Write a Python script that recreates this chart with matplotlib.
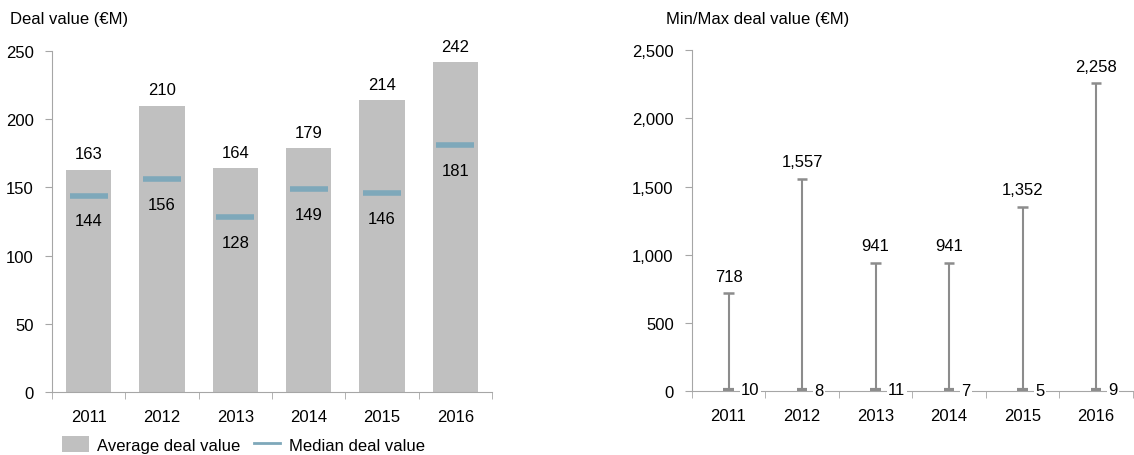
import matplotlib.pyplot as plt
import numpy as np

plt.rcParams['font.family'] = ['Liberation Sans', 'DejaVu Sans']

years = ['2011', '2012', '2013', '2014', '2015', '2016']
avg_value = [163, 210, 164, 179, 214, 242]
median_value = [144, 156, 128, 149, 146, 181]
max_value = [718, 1557, 941, 941, 1352, 2258]
min_value = [10, 8, 11, 7, 5, 9]

bar_color = '#c0c0c0'
median_color = '#7ea8ba'
axis_color = '#a6a6a6'
range_color = '#8c8c8c'
fs = 12

fig = plt.figure(figsize=(11.34, 4.56), dpi=100)
ax1 = fig.add_axes([0.0459, 0.138, 0.388, 0.748])
ax2 = fig.add_axes([0.610, 0.140, 0.389, 0.748])

x = np.arange(len(years))


def style_axis(ax):
    for s in ['top', 'right']:
        ax.spines[s].set_visible(False)
    for s in ['left', 'bottom']:
        ax.spines[s].set_color(axis_color)
    ax.set_xlim(-0.5, len(years) - 0.5)
    ax.set_xticks(x)
    ax.set_xticklabels(years, fontsize=fs)
    ax.tick_params(axis='x', length=0, pad=12)
    ax.set_xticks(np.arange(len(years) + 1) - 0.5, minor=True)
    ax.tick_params(axis='x', which='minor', length=5, color=axis_color, direction='out')
    ax.tick_params(axis='y', length=5, color=axis_color, labelsize=fs, pad=8)


# left: average bars with median markers
bars = ax1.bar(x, avg_value, width=0.62, color=bar_color)
ax1.hlines(median_value, x - 0.26, x + 0.26, color=median_color, lw=4)
for i in range(len(years)):
    ax1.text(x[i], avg_value[i] + 6, str(avg_value[i]), ha='center', va='bottom', fontsize=fs)
    ax1.text(x[i], median_value[i] - 13, str(median_value[i]), ha='center', va='top', fontsize=fs)
ax1.set_ylim(0, 250)
ax1.set_yticks(range(0, 251, 50))
style_axis(ax1)
median_handle = plt.Line2D([], [], color=median_color, lw=2)
ax1.legend([bars, median_handle], ['Average deal value', 'Median deal value'],
           loc='upper left', bbox_to_anchor=(0.0, -0.1), ncol=2, frameon=False,
           fontsize=fs, handlelength=1.6, handleheight=1.1, columnspacing=0.8,
           handletextpad=0.5, borderaxespad=0.2)
fig.text(0.009, 0.958, 'Deal value (€M)', fontsize=fs, ha='left', va='center')

# right: min/max range
ax2.vlines(x, min_value, max_value, color=range_color, lw=1.5)
ax2.hlines(max_value, x - 0.07, x + 0.07, color=range_color, lw=1.8)
ax2.hlines(min_value, x - 0.07, x + 0.07, color=range_color, lw=3)
for i in range(len(years)):
    ax2.text(x[i], max_value[i] + 70, f'{max_value[i]:,}', ha='center', va='bottom', fontsize=fs)
    ax2.text(x[i] + 0.17, min_value[i], str(min_value[i]), ha='left', va='center', fontsize=fs,
             bbox=dict(facecolor='white', edgecolor='none', pad=1))
ax2.set_ylim(0, 2500)
ax2.set_yticks(range(0, 2501, 500))
ax2.set_yticklabels([f'{v:,}' for v in range(0, 2501, 500)])
style_axis(ax2)
fig.text(0.587, 0.958, 'Min/Max deal value (€M)', fontsize=fs, ha='left', va='center')

fig.savefig('out.png', dpi=100)
